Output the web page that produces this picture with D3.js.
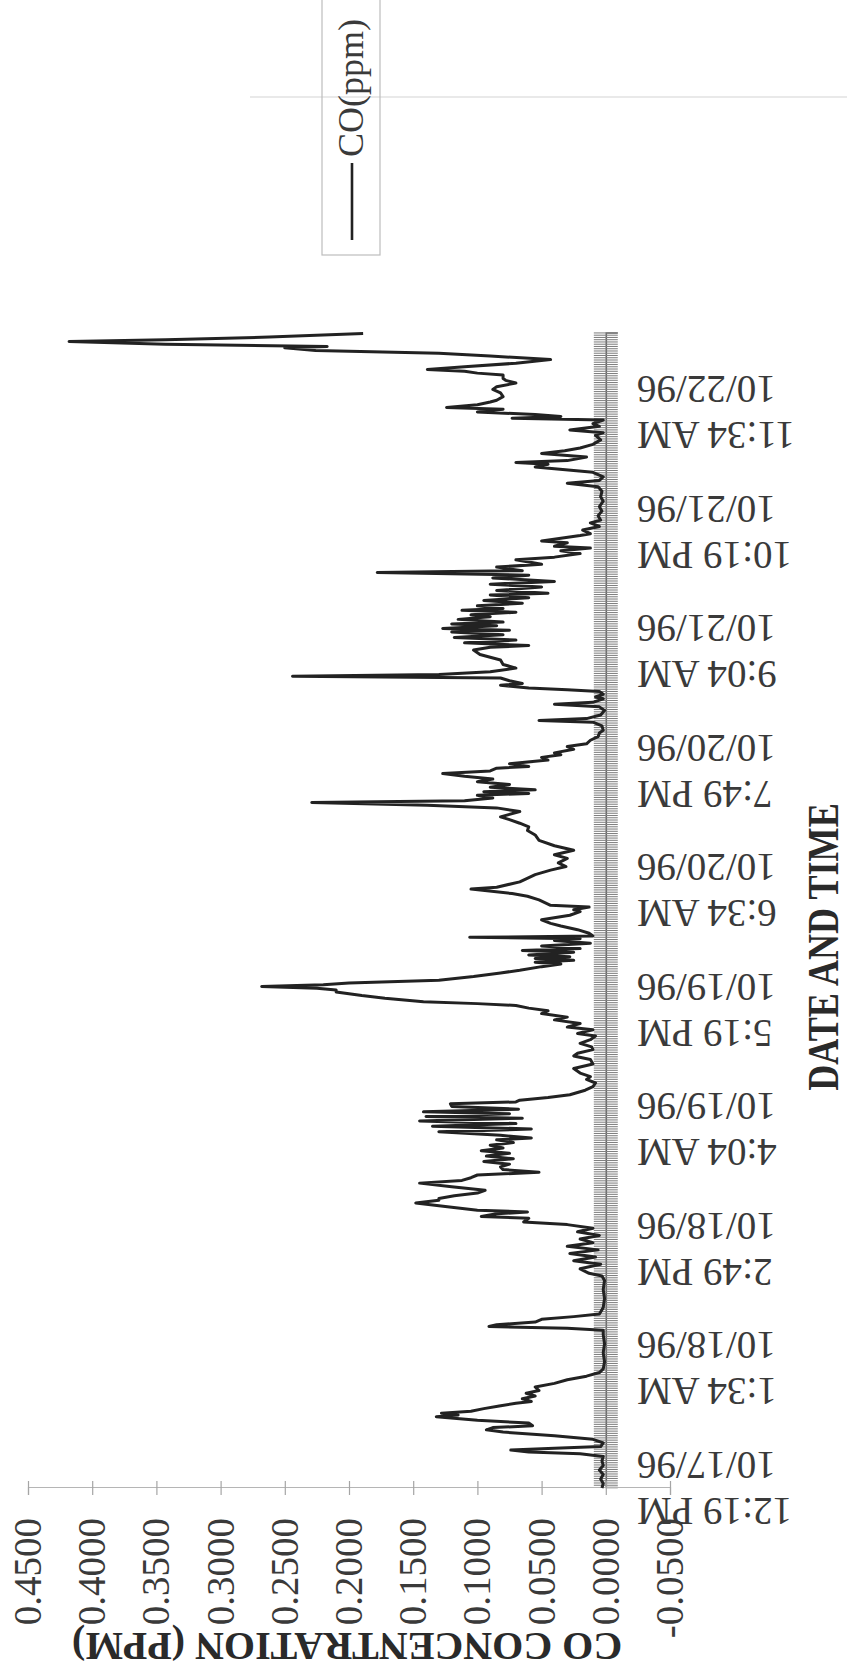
<!DOCTYPE html>
<html><head><meta charset="utf-8">
<script src="https://cdn.jsdelivr.net/npm/d3@7"></script>
<style>body{margin:0;background:#fff}svg{display:block}</style>
</head><body>
<svg id="c" width="847" height="1668"></svg>
<script>
// ---- data ----
const seriesName = "CO(ppm)";
const xTitle = "DATE AND TIME";
const yTitle = "CO CONCENTRATION (PPM)";
const startTime = new Date(1996, 9, 17, 12, 19);
const spanHours = 128;
const tickStepHours = 13.25;
const tickTimes = ["12:19 PM","1:34 AM","2:49 PM","4:04 AM","5:19 PM","6:34 AM","7:49 PM","9:04 AM","10:19 PM","11:34 AM"];
const tickDates = ["10/17/96","10/18/96","10/18/96","10/19/96","10/19/96","10/20/96","10/20/96","10/21/96","10/21/96","10/22/96"];
const valueTicks = [0.45,0.40,0.35,0.30,0.25,0.20,0.15,0.10,0.05,0.00,-0.05];

// hours after start
const hours = [
0.0,0.5,1.0,1.5,2.0,2.5,3.0,3.5,3.8,4.0,4.2,4.4,4.6,5.0,5.4,5.8,6.2,6.45,6.7,6.9,7.2,7.5,7.9,8.1,8.3,8.5,8.8,9.1,9.4,9.6,9.9,10.2,10.5,10.8,11.2,11.6,12.0,12.4,12.8,13.2,14.0,15.0,16.0,17.0,17.5,17.7,17.9,18.1,18.4,18.7,19.0,19.3,20.0,21.0,22.0,23.0,23.5,23.8,
24.3,24.8,25.2,25.6,26.0,26.4,26.8,27.2,27.6,28.0,28.4,28.8,29.2,29.5,29.9,30.1,30.4,30.6,30.8,31.2,31.6,31.9,32.1,32.4,32.7,33.0,33.4,33.8,34.1,34.4,34.7,35.0,35.3,35.6,35.9,36.2,36.5,36.8,37.1,37.4,37.7,38.0,38.3,38.6,38.8,39.1,39.5,39.8,40.1,40.4,40.7,41.0,41.2,41.5,41.7,42.0,42.3,42.6,42.8,43.0,43.3,43.6,44.1,44.5,44.9,45.3,45.6,46.0,46.5,47.0,47.5,47.9,48.2,48.6,48.9,49.3,
49.7,50.1,50.4,50.8,51.1,51.5,51.9,52.2,52.6,52.9,53.2,53.5,53.7,53.9,54.3,54.6,54.8,55.0,55.2,55.4,55.6,55.8,56.0,56.3,56.7,57.1,57.4,57.8,58.1,58.3,58.5,58.7,58.9,59.1,59.4,59.6,59.8,60.1,60.4,60.7,60.9,61.05,61.2,61.5,61.9,62.3,62.6,63.0,63.5,63.9,64.1,64.4,64.6,65.2,65.6,65.9,66.4,66.6,67.2,68.0,68.5,68.9,69.3,69.8,70.2,70.7,71.2,71.8,72.4,72.9,73.3,73.7,74.1,74.4,75.0,75.4,75.7,76.0,
76.2,76.5,76.8,77.0,77.2,77.4,77.7,78.0,78.3,78.6,78.9,79.2,79.5,79.8,80.0,80.3,80.7,81.0,81.3,81.5,81.9,82.2,82.5,82.9,83.3,83.7,84.0,84.5,84.9,85.1,85.3,85.7,86.2,86.6,86.9,87.1,87.5,87.7,88.0,88.3,88.5,88.7,89.0,89.2,89.5,89.8,90.0,90.2,90.5,90.9,91.3,91.8,92.1,92.4,92.9,93.2,93.4,93.7,94.0,94.3,94.6,94.9,95.1,95.3,95.6,95.8,96.0,96.3,96.6,96.8,97.1,97.3,97.5,97.8,98.1,98.4,98.7,99.0,99.2,99.5,99.9,100.2,100.5,100.9,101.2,101.5,101.7,102.1,102.4,102.9,
103.2,103.6,103.9,104.2,104.4,104.8,105.0,105.3,105.6,105.8,106.2,106.6,107.0,107.3,107.8,108.3,108.8,109.4,109.9,110.5,111.0,111.4,111.7,112.1,112.6,113.0,113.2,113.5,113.7,113.9,114.3,114.7,115.0,115.3,115.7,116.2,116.7,117.0,117.3,117.7,118.0,118.4,118.6,118.8,119.0,119.3,119.6,119.8,120.1,120.4,120.6,121.0,121.4,121.8,122.1,122.5,122.8,123.0,123.4,123.6,123.8,124.0,124.3,124.7,125.1,125.5,125.8,126.1,126.4,126.55,126.8,127.1,127.3,127.6,128.0
];
const co = [
.003,.002,.004,.002,.005,.002,.003,.002,.02,.06,.074,.04,.004,.002,.01,.04,.08,.093,.088,.057,.06,.1,.132,.115,.128,.105,.095,.083,.07,.058,.065,.055,.062,.052,.055,.04,.03,.015,.005,.002,.001,.002,.001,.002,.002,.03,.091,.085,.055,.05,.025,.005,.002,.001,.002,.001,.003,.013,
.02,.004,.025,.008,.028,.006,.03,.01,.02,.005,.022,.01,.03,.064,.06,.097,.085,.061,.1,.125,.148,.13,.13,.118,.1,.094,.12,.145,.112,.105,.1,.052,.08,.082,.075,.095,.072,.093,.075,.097,.08,.09,.072,.085,.058,.082,.13,.058,.135,.07,.145,.065,.14,.075,.142,.068,.12,.121,.07,.067,.045,.028,.016,.01,.008,.015,.012,.02,.025,.01,.012,.025,.022,.01,.011,.02,
.012,.008,.022,.01,.03,.02,.04,.03,.05,.045,.06,.07,.1,.142,.172,.19,.2,.21,.21,.225,.268,.22,.2,.13,.103,.082,.067,.05,.035,.055,.025,.055,.028,.06,.025,.065,.02,.05,.012,.04,.02,.106,.01,.013,.022,.035,.043,.05,.028,.02,.025,.013,.043,.052,.061,.073,.105,.085,.067,.055,.043,.031,.037,.03,.04,.025,.04,.052,.055,.061,.06,.067,.075,.082,.067,.085,.139,.229,
.11,.088,.1,.06,.095,.055,.09,.075,.1,.088,.11,.127,.09,.085,.06,.075,.045,.05,.035,.04,.025,.03,.015,.012,.006,.005,.002,.003,.01,.052,.015,.004,.001,.005,.04,.01,.002,.008,.002,.005,.03,.06,.082,.065,.075,.082,.244,.13,.09,.07,.08,.082,.09,.098,.103,.09,.06,.11,.07,.118,.08,.12,.075,.127,.085,.12,.08,.115,.09,.105,.07,.112,.08,.1,.065,.095,.06,.09,.045,.085,.05,.09,.04,.088,.06,.178,.065,.085,.05,.07,
.04,.02,.035,.012,.04,.03,.05,.035,.02,.012,.018,.005,.012,.004,.006,.003,.005,.002,.004,.003,.006,.03,.005,.002,.01,.04,.055,.045,.07,.03,.015,.05,.032,.02,.01,.004,.008,.002,.028,.005,.01,.002,.073,.035,.055,.1,.08,.124,.1,.09,.085,.08,.082,.088,.085,.07,.078,.08,.08,.1,.11,.139,.11,.07,.043,.09,.13,.226,.25,.217,.343,.418,.343,.262,.189
];

// ---- drawing ----
const serif = "'Liberation Serif','Times New Roman',Times,serif";
const svg = d3.select("#c");
const HMS = 3600e3;
const toDate = h => new Date(+startTime + h * HMS);
const data = hours.map((h, i) => ({ t: toDate(h), v: co[i] }));

// faint scan border line
svg.append("line").attr("x1", 250).attr("x2", 847).attr("y1", 97).attr("y2", 97)
  .attr("stroke", "#d4d4d4").attr("stroke-width", 1.2);

// landscape chart rotated 90deg counter-clockwise
const g = svg.append("g").attr("transform", "translate(0,1668) rotate(-90)");

const x0 = 180, pxPerHour = 9.02;
const x = d3.scaleTime().domain([startTime, toDate(spanHours)]).range([x0, x0 + spanHours * pxPerHour]);
const y = d3.scaleLinear().domain([-0.05, 0.45]).range([670, 28]);

// category axis band at zero (dense tick marks)
const bandTicks = d3.range(0, spanHours + 0.001, 0.25).map(toDate);
const catAxis = d3.axisBottom(x).tickValues(bandTicks).tickSize(12).tickFormat("");
const ca = g.append("g").attr("transform", `translate(0,${y(0)})`).call(catAxis);
ca.selectAll(".tick line").attr("y1", -12).attr("stroke", "#808080").attr("stroke-width", 1.05);
ca.select(".domain").attr("stroke", "#666").attr("stroke-width", 1.6);

// value axis
const valAxis = d3.axisLeft(y).tickValues(valueTicks).tickSize(7).tickPadding(23)
  .tickFormat(d => d.toFixed(4));
const va = g.append("g").attr("transform", `translate(${x0},0)`).call(valAxis);
va.select(".domain").attr("stroke", "#b5b5b5").attr("stroke-width", 1.2);
va.selectAll(".tick line").attr("x1", 7).attr("stroke", "#a5a5a5").attr("stroke-width", 1.2);
va.selectAll(".tick text").attr("font-family", serif).attr("font-size", 39).attr("fill", "#3a3a3a");

// time tick labels
const labelTicks = tickTimes.map((s, i) => ({ t: toDate(i * tickStepHours), a: s, b: tickDates[i] }));
const tl = g.append("g").selectAll("g").data(labelTicks).join("g")
  .attr("transform", d => `translate(${x(d.t)},637) rotate(-90)`);
const tt = tl.append("text").attr("text-anchor", "end").attr("font-family", serif)
  .attr("font-size", 39).attr("fill", "#3a3a3a");
tt.append("tspan").attr("x", 0).attr("y", -10).text(d => d.a);
tt.append("tspan").attr("x", 0).attr("y", 36).text(d => d.b);

// series line
const line = d3.line().x(d => x(d.t)).y(d => y(d.v));
g.append("path").datum(data).attr("d", line).attr("fill", "none")
  .attr("stroke", "#222").attr("stroke-width", 3).attr("stroke-linejoin", "round");

// axis titles
g.append("text").attr("transform", "translate(35,347) rotate(-90)")
  .attr("text-anchor", "middle").attr("font-family", serif).attr("font-weight", "bold")
  .attr("font-size", 40).attr("fill", "#2a2a2a").text(yTitle);
g.append("text").attr("transform", "translate(721,838) scale(0.95,1.15)")
  .attr("text-anchor", "middle").attr("font-family", serif).attr("font-weight", "bold")
  .attr("font-size", 38).attr("fill", "#2a2a2a").text(xTitle);

// legend
const lg = g.append("g");
lg.append("rect").attr("x", 1413).attr("y", 322).attr("width", 280).attr("height", 58)
  .attr("fill", "none").attr("stroke", "#bdbdbd").attr("stroke-width", 1.2);
lg.append("line").attr("x1", 1428).attr("x2", 1505).attr("y1", 352).attr("y2", 352)
  .attr("stroke", "#222").attr("stroke-width", 2.6);
lg.append("text").attr("x", 1511).attr("y", 363).attr("font-family", serif)
  .attr("font-size", 36).attr("fill", "#3a3a3a").text(seriesName);
</script>
</body></html>
